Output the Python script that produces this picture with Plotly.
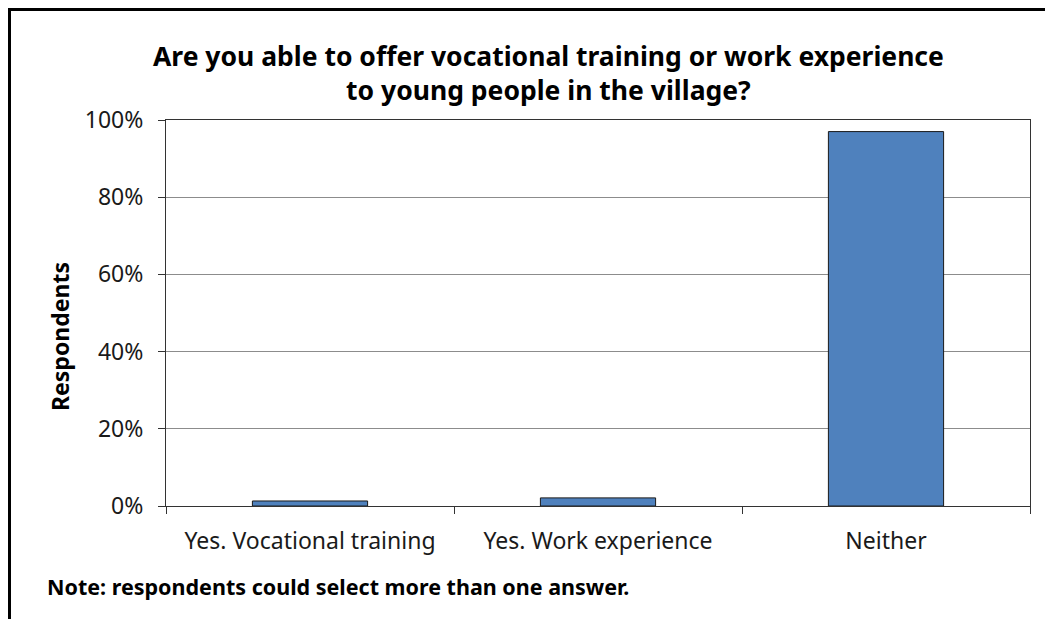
import plotly.graph_objects as go

categories = ["Yes. Vocational training", "Yes. Work experience", "Neither"]
values = [0.013, 0.021, 0.97]
y_ticks = [0, 0.2, 0.4, 0.6, 0.8, 1.0]

OFF = 8  # page body margin
W, H = 1053 - OFF, 619 - OFF
# plot area in screenshot pixels
SL, SR, ST, SB = 166, 1030, 120, 506
L, R, T, B = SL - OFF, SR - OFF, ST - OFF, SB - OFF
pw, ph = R - L, B - T

def px(x):
    return (x - OFF - L) / pw

def py(y):
    return (B - (y - OFF)) / ph

FONT = "Noto Sans"

fig = go.Figure(go.Bar(
    x=categories, y=values,
    marker=dict(color="#4F81BD", line=dict(color="#1a1a1a", width=1)),
    width=0.4,
))

fig.update_layout(
    width=W, height=H,
    margin=dict(l=L, r=W - R, t=T, b=H - B),
    paper_bgcolor="white", plot_bgcolor="white",
    showlegend=False,
    font=dict(family=FONT, color="#1a1a1a"),
)

fig.update_xaxes(
    type="category", tickson="boundaries", ticks="outside", ticklen=7,
    tickcolor="#333", showline=True, linecolor="#333", linewidth=1, mirror=True,
    showgrid=False, tickfont=dict(size=23, family=FONT, color="#1a1a1a"),
    ticklabelstandoff=14,
)
fig.update_yaxes(
    range=[0, 1], tickvals=y_ticks, tickformat=".0%", ticks="outside", ticklen=7,
    tickcolor="#333", showline=True, linecolor="#333", linewidth=1, mirror=True,
    showgrid=True, gridcolor="#8c8c8c", gridwidth=1,
    tickfont=dict(size=23, family=FONT, color="#1a1a1a"),
    ticklabelstandoff=10,
    zeroline=False,
)

fig.add_annotation(
    text="<b>Respondents</b>", textangle=-90,
    xref="paper", yref="paper", x=px(60), y=py(337), xanchor="center", yanchor="middle",
    showarrow=False, font=dict(size=23, family=FONT, color="#000"),
)
fig.add_annotation(
    text="<b>Are you able to offer vocational training or work experience<br>to young people in the village?</b>",
    xref="paper", yref="paper", x=px(548), y=py(73), xanchor="center", yanchor="middle",
    showarrow=False, font=dict(size=26.5, family=FONT, color="#000"),
)
fig.add_annotation(
    text="<b>Note: respondents could select more than one answer.</b>",
    xref="paper", yref="paper", x=px(45), y=py(586), xanchor="left", yanchor="middle",
    showarrow=False, font=dict(size=21.5, family=FONT, color="#000"),
)

# outer chart border (left and top visible)
fig.add_shape(type="line", xref="paper", yref="paper", x0=px(9.5), y0=py(640), x1=px(9.5), y1=py(8),
              line=dict(color="#000", width=3))
fig.add_shape(type="line", xref="paper", yref="paper", x0=px(8), y0=py(9.5), x1=px(1070), y1=py(9.5),
              line=dict(color="#000", width=3))

fig.write_html("out.html")
